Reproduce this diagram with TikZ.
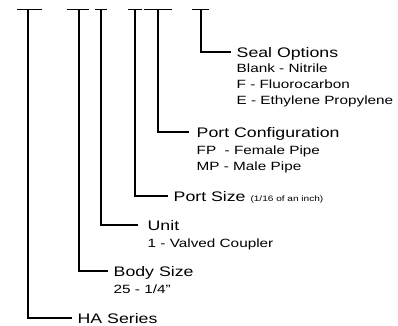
\documentclass[tikz,border=0pt]{standalone}
\usepackage{fontspec}
\setmainfont{Liberation Sans}[FakeStretch=1.28]
\usetikzlibrary{positioning}

\begin{document}
\begin{tikzpicture}[x=1bp, y=-1bp, line width=1.4bp,
		main/.style={anchor=west, inner sep=0pt, font=\fontsize{13.9}{16}\selectfont, text height=10bp, text depth=0pt},
		sub/.style={anchor=west, inner sep=0pt, font=\fontsize{12}{14}\selectfont, text height=8.6bp, text depth=0pt},
		lead/.style={shorten >=5bp}]
				\useasboundingbox (0,0) rectangle (398,326);
				% bars on top
				\coordinate (l1) at (17,9.5);  \coordinate (t1) at (28,9.5);  \coordinate (r1) at (42,9.5);
				\coordinate (l2) at (67,9.5);  \coordinate (t2) at (79,9.5);  \coordinate (r2) at (89,9.5);
				\coordinate (l3) at (95,9.5);  \coordinate (t3) at (101,9.5); \coordinate (r3) at (107,9.5);
				\coordinate (l4) at (128,9.5); \coordinate (t4) at (135,9.5); \coordinate (r4) at (142,9.5);
				\coordinate (l5) at (144,9.5); \coordinate (t5) at (158,9.5); \coordinate (r5) at (172,9.5);
				\coordinate (l6) at (192,9.5); \coordinate (t6) at (201,9.5); \coordinate (r6) at (209,9.5);
				
				\node[main] (seal) at (236,52) {Seal Options};
				\node[sub] (sealA) at (236,68) {Blank - Nitrile};
				\node[sub] (sealB) at (236,84) {F - Fluorocarbon};
				\node[sub] (sealC) at (236,100) {E - Ethylene Propylene};
				\node[main] (config) at (196,132) {Port Configuration};
				\node[sub] (configA) at (196,150) {FP\ \ - Female Pipe};
				\node[sub] (configB) at (196,166) {MP - Male Pipe};
				\node[main] (size) at (173,196) {Port Size {\fontsize{7.9}{10}\selectfont(1/16 of an inch)}};
				\node[main] (unit) at (147,225) {Unit};
				\node[sub] (unitA) at (147,243) {1 - Valved Coupler};
				\node[main] (body) at (113,271) {Body Size};
				\node[sub] (bodyA) at (113,289) {25 - 1/4"};
				\node[main] (series) at (77,318) {HA Series};
				
				\draw (l1) -- (r1);
				\draw (l2) -- (r2);
				\draw (l3) -- (r3);
				\draw (l4) -- (r4);
				\draw (l5) -- (r5);
				\draw (l6) -- (r6);
				\draw[lead] (t1) |- (series.west);
				\draw[lead] (t2) |- (body.west);
				\draw[lead] (t3) |- ([xshift=-4bp]unit.west);
				\draw[lead] (t4) |- (size.west);
				\draw[lead] (t5) |- ([xshift=-2bp]config.west);
				\draw[lead] (t6) |- (seal.west);
			\end{tikzpicture}
\end{document}
